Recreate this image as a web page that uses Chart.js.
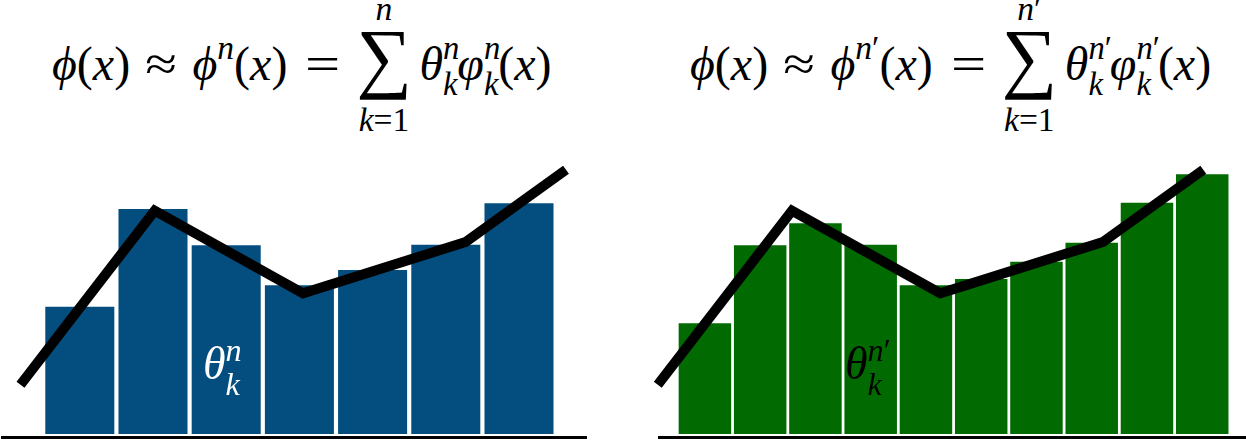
<!DOCTYPE html>
<html>
<head>
<meta charset="utf-8">
<script src="https://cdn.jsdelivr.net/npm/chart.js@4.4.0/dist/chart.umd.min.js"></script>
<style>
  html, body { margin: 0; padding: 0; background: #fff; }
  body { width: 1246px; height: 440px; position: relative; overflow: hidden; }
  canvas { position: absolute; top: 140px; }
  #leftChart { left: 0; }
  #rightChart { left: 620px; }
  .f { position: absolute; top: 40px; font-family: "Liberation Serif", "DejaVu Serif", serif; font-size: 48px; line-height: 48px; white-space: nowrap; color: #000; }
  .f i, .lbl i { font-style: italic; }
  .rel { display: inline-block; transform: scaleX(1.2); margin: 0 18px; }
  .rel.eq { transform: scaleX(1.3); margin: 0 20px 0 22px; }
  .sup { font-size: 0.7em; position: relative; top: -21px; }
  .ss { display: inline-flex; flex-direction: column; font-size: 0.68em; line-height: 1.1; position: relative; top: -21px; margin-right: -2px; }
  .sum { display: inline-block; position: relative; width: 51px; height: 0; margin: 0 10px 0 2px; }
  .sum > span { position: absolute; left: 50%; transform: translateX(-50%); line-height: 1; }
  .sum .up { font-size: 0.7em; top: -88px; }
  .sum .op { font-size: 78px; top: -62px; }
  .sum .dn { font-size: 0.7em; top: 23px; }
  .lbl { position: absolute; top: 341px; font-family: "Liberation Serif", "DejaVu Serif", serif; font-size: 46px; line-height: 46px; white-space: nowrap; }
  .lbl .ss { font-size: 0.7em; line-height: 1.06; top: -18px; margin: 0; }
</style>
</head>
<body>
<div class="f" id="formulaLeft" style="left:52px"><i>ϕ</i>(<i>x</i>)<span class="rel">≈</span><i>ϕ</i><span class="sup"><i>n</i></span>(<i>x</i>)<span class="rel eq">=</span><span class="sum"><span class="up"><i>n</i></span><span class="op">∑</span><span class="dn"><i>k</i>=1</span></span><i>θ</i><span class="ss"><i>n</i><i>k</i></span><i>φ</i><span class="ss"><i>n</i><i>k</i></span>(<i>x</i>)</div>
<div class="f" id="formulaRight" style="left:690px"><i>ϕ</i>(<i>x</i>)<span class="rel">≈</span><i>ϕ</i><span class="sup"><i>n</i>′</span>(<i>x</i>)<span class="rel eq">=</span><span class="sum"><span class="up"><i>n</i>′</span><span class="op">∑</span><span class="dn"><i>k</i>=1</span></span><i>θ</i><span class="ss"><span><i>n</i>′</span><i>k</i></span><i>φ</i><span class="ss"><span><i>n</i>′</span><i>k</i></span>(<i>x</i>)</div>

<canvas id="leftChart" width="620" height="300"></canvas>
<canvas id="rightChart" width="626" height="300"></canvas>

<div class="lbl" style="left:203px; color:#fff"><i>θ</i><span class="ss"><i>n</i><i>k</i></span></div>
<div class="lbl" style="left:845px; color:#000"><i>θ</i><span class="ss"><span><i>n</i>′</span><i>k</i></span></div>

<script>
// coefficients theta_k for n = 7 basis functions
const leftK = [1, 2, 3, 4, 5, 6, 7];
const leftTheta = [5.09, 9.0, 7.55, 5.95, 6.56, 7.57, 9.23];

// coefficients theta_k for n' = 10 basis functions
const rightK = [1, 2, 3, 4, 5, 6, 7, 8, 9, 10];
const rightTheta = [4.43, 7.55, 8.43, 7.57, 5.95, 6.2, 6.89, 7.65, 9.25, 10.39];

// target function phi(x), piecewise linear
const phiX = [0, 0.246, 0.518, 0.816, 1];
const phiY = [1.97, 8.93, 5.63, 7.68, 10.57];

const baseline = {
    id: "baseline",
    afterDatasetsDraw(chart) {
        const { ctx, chartArea } = chart;
        ctx.save();
        ctx.strokeStyle = "#000";
        ctx.lineWidth = 3;
        ctx.beginPath();
        ctx.moveTo(chartArea.left, chartArea.bottom);
        ctx.lineTo(chartArea.right, chartArea.bottom);
        ctx.stroke();
        ctx.restore();
    }
};

function makeChart(id, ks, thetas, color, barPct, kRange, xRange, padding) {
    const ctx = document.getElementById(id).getContext("2d");
    return new Chart(ctx, {
        type: "bar",
        data: {
            datasets: [
                {
                    type: "line",
                    data: phiX.map((x, i) => ({ x, y: phiY[i] })),
                    xAxisID: "xf",
                    borderColor: "#000",
                    borderWidth: 10,
                    borderJoinStyle: "miter",
                    borderCapStyle: "butt",
                    pointRadius: 0,
                    tension: 0,
                    fill: false,
                    clip: false,
                    order: 0
                },
                {
                    type: "bar",
                    data: ks.map((k, i) => ({ x: k, y: thetas[i] })),
                    xAxisID: "xk",
                    backgroundColor: color,
                    borderWidth: 0,
                    grouped: false,
                    barPercentage: barPct,
                    categoryPercentage: 1,
                    order: 1
                }
            ]
        },
        options: {
            responsive: false,
            animation: false,
            layout: { padding },
            plugins: { legend: { display: false }, tooltip: { enabled: false } },
            scales: {
                xk: {
                    type: "linear", display: false, offset: false,
                    min: kRange[0], max: kRange[1],
                    ticks: { stepSize: 1, includeBounds: false }
                },
                xf: { type: "linear", display: false, offset: false, min: xRange[0], max: xRange[1] },
                y: { type: "linear", display: false, min: -0.14, max: 11.5 }
            }
        },
        plugins: [baseline]
    });
}

makeChart("leftChart", leftK, leftTheta, "#044e7f", 0.943,
    [-0.0765, 7.929], [-0.0357, 1.0385],
    { left: 1, right: 33, top: 6.5, bottom: 2.5 });

makeChart("rightChart", rightK, rightTheta, "#016b01", 0.95,
    [0.151, 10.792], [0.0004, 1.0783],
    { left: 38, right: 0, top: 6.5, bottom: 2.5 });
</script>
</body>
</html>
